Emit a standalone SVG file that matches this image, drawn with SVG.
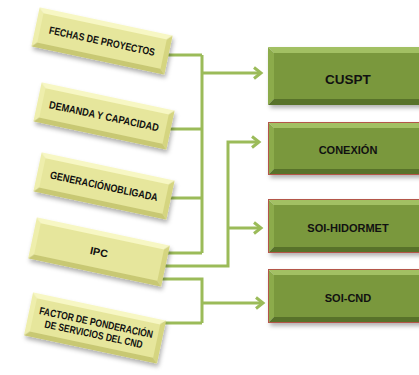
<svg xmlns="http://www.w3.org/2000/svg" width="419" height="375" viewBox="0 0 419 375">
<defs>
  <filter id="sh" x="-20%" y="-30%" width="140%" height="170%">
    <feDropShadow dx="2" dy="3" stdDeviation="2" flood-color="#000" flood-opacity="0.3"/>
  </filter>
  <marker id="arr" markerUnits="userSpaceOnUse" markerWidth="14" markerHeight="16" refX="9" refY="7" orient="auto">
    <path d="M2,1.5 L9,7 L2,12.5" fill="none" stroke="#9bbb59" stroke-width="3"/>
  </marker>
  <style>
    .ln{fill:none;stroke:#9bbb59;stroke-width:3}
    .yt{fill:#f7f7c4}.yl{fill:#eeeeac}.yb{fill:#c8c873}.yr{fill:#d5d580}.yf{fill:#e6e69c}
    .gt{fill:#a2c063}.gl{fill:#8cab4b}.gb{fill:#58722a}.gr{fill:#688433}.gf{fill:#7a983e}
    .lt{font-family:"Liberation Sans",Arial,sans-serif;font-weight:bold;font-size:10.5px;fill:#111;text-anchor:middle}
    .rt{font-family:"Liberation Sans",Arial,sans-serif;font-weight:bold;font-size:11px;fill:#111;text-anchor:middle}
    .bd{fill:none;stroke:#b4564a;stroke-width:1}
  </style>
</defs>

<g id="connectors">
  <path class="ln" d="M150,55 H202 M150,129 H202 M150,198 H202 M150,253 H202 M202,55 V253"/>
  <path class="ln" d="M202,73 H261" marker-end="url(#arr)"/>
  <path class="ln" d="M150,266 H228 V142 H259" marker-end="url(#arr)"/>
  <path class="ln" d="M228,228 H261" marker-end="url(#arr)"/>
  <path class="ln" d="M150,279 H202 V323 M150,323 H202"/>
  <path class="ln" d="M202,303 H263" marker-end="url(#arr)"/>
</g>

<g id="fechas" transform="translate(102,41) rotate(12)">
  <g filter="url(#sh)">
    <polygon class="yt" points="-68,-20 68,-20 63,-15 -63,-15"/>
    <polygon class="yl" points="-68,-20 -63,-15 -63,15 -68,20"/>
    <polygon class="yb" points="-68,20 68,20 63,15 -63,15"/>
    <polygon class="yr" points="68,-20 68,20 63,15 63,-15"/>
    <rect class="yf" x="-63" y="-15" width="126" height="30"/>
  </g>
  <text class="lt" x="0" y="3.8" textLength="108" lengthAdjust="spacingAndGlyphs">FECHAS DE PROYECTOS</text>
</g>

<g id="demanda" transform="translate(104,116) rotate(12)">
  <g filter="url(#sh)">
    <polygon class="yt" points="-68,-20 68,-20 63,-15 -63,-15"/>
    <polygon class="yl" points="-68,-20 -63,-15 -63,15 -68,20"/>
    <polygon class="yb" points="-68,20 68,20 63,15 -63,15"/>
    <polygon class="yr" points="68,-20 68,20 63,15 63,-15"/>
    <rect class="yf" x="-63" y="-15" width="126" height="30"/>
  </g>
  <text class="lt" x="0" y="3.8" textLength="112" lengthAdjust="spacingAndGlyphs">DEMANDA Y CAPACIDAD</text>
</g>

<g id="generacion" transform="translate(104,186) rotate(12)">
  <g filter="url(#sh)">
    <polygon class="yt" points="-68,-20 68,-20 63,-15 -63,-15"/>
    <polygon class="yl" points="-68,-20 -63,-15 -63,15 -68,20"/>
    <polygon class="yb" points="-68,20 68,20 63,15 -63,15"/>
    <polygon class="yr" points="68,-20 68,20 63,15 63,-15"/>
    <rect class="yf" x="-63" y="-15" width="126" height="30"/>
  </g>
  <text class="lt" x="0" y="3.8" textLength="110" lengthAdjust="spacingAndGlyphs">GENERACIÓNOBLIGADA</text>
</g>

<g id="ipc" transform="translate(99,252) rotate(12)">
  <g filter="url(#sh)">
    <polygon class="yt" points="-68,-21 68,-21 63,-16 -63,-16"/>
    <polygon class="yl" points="-68,-21 -63,-16 -63,16 -68,21"/>
    <polygon class="yb" points="-68,21 68,21 63,16 -63,16"/>
    <polygon class="yr" points="68,-21 68,21 63,16 63,-16"/>
    <rect class="yf" x="-63" y="-16" width="126" height="32"/>
  </g>
  <text class="lt" x="0" y="3.8" textLength="18" lengthAdjust="spacingAndGlyphs">IPC</text>
</g>

<g id="factor" transform="translate(95,328) rotate(12)">
  <g filter="url(#sh)">
    <polygon class="yt" points="-68,-22 68,-22 63,-17 -63,-17"/>
    <polygon class="yl" points="-68,-22 -63,-17 -63,17 -68,22"/>
    <polygon class="yb" points="-68,22 68,22 63,17 -63,17"/>
    <polygon class="yr" points="68,-22 68,22 63,17 63,-17"/>
    <rect class="yf" x="-63" y="-17" width="126" height="34"/>
  </g>
  <text class="lt" x="0" y="-2" textLength="116" lengthAdjust="spacingAndGlyphs">FACTOR DE PONDERACIÓN</text>
  <text class="lt" x="0" y="10" textLength="100" lengthAdjust="spacingAndGlyphs">DE SERVICIOS DEL CND</text>
</g>

<g id="cuspt" transform="translate(268,47)">
  <g filter="url(#sh)">
    <polygon class="gt" points="0,0 160,0 154,6 6,6"/>
    <polygon class="gl" points="0,0 6,6 6,52 0,58"/>
    <polygon class="gb" points="0,58 160,58 154,52 6,52"/>
    <polygon class="gr" points="160,0 160,58 154,52 154,6"/>
    <rect class="gf" x="6" y="6" width="148" height="46"/>
  </g>
  <text class="rt" x="80" y="37" style="font-size:13.5px">CUSPT</text>
</g>

<g id="conexion" transform="translate(268,122)">
  <g filter="url(#sh)">
    <polygon class="gt" points="0,0 160,0 154,6 6,6"/>
    <polygon class="gl" points="0,0 6,6 6,47 0,53"/>
    <polygon class="gb" points="0,53 160,53 154,47 6,47"/>
    <polygon class="gr" points="160,0 160,53 154,47 154,6"/>
    <rect class="gf" x="6" y="6" width="148" height="41"/>
    <rect class="bd" x="0.5" y="0.5" width="160" height="52"/>
  </g>
  <text class="rt" x="80" y="32">CONEXIÓN</text>
</g>

<g id="soi-hidormet" transform="translate(268,199)">
  <g filter="url(#sh)">
    <polygon class="gt" points="0,0 160,0 154,6 6,6"/>
    <polygon class="gl" points="0,0 6,6 6,48 0,54"/>
    <polygon class="gb" points="0,54 160,54 154,48 6,48"/>
    <polygon class="gr" points="160,0 160,54 154,48 154,6"/>
    <rect class="gf" x="6" y="6" width="148" height="42"/>
    <rect class="bd" x="0.5" y="0.5" width="160" height="53"/>
  </g>
  <text class="rt" x="80" y="33">SOI-HIDORMET</text>
</g>

<g id="soi-cnd" transform="translate(268,269)">
  <g filter="url(#sh)">
    <polygon class="gt" points="0,0 160,0 154,6 6,6"/>
    <polygon class="gl" points="0,0 6,6 6,48 0,54"/>
    <polygon class="gb" points="0,54 160,54 154,48 6,48"/>
    <polygon class="gr" points="160,0 160,54 154,48 154,6"/>
    <rect class="gf" x="6" y="6" width="148" height="42"/>
    <rect class="bd" x="0.5" y="0.5" width="160" height="53"/>
  </g>
  <text class="rt" x="80" y="33">SOI-CND</text>
</g>
</svg>
